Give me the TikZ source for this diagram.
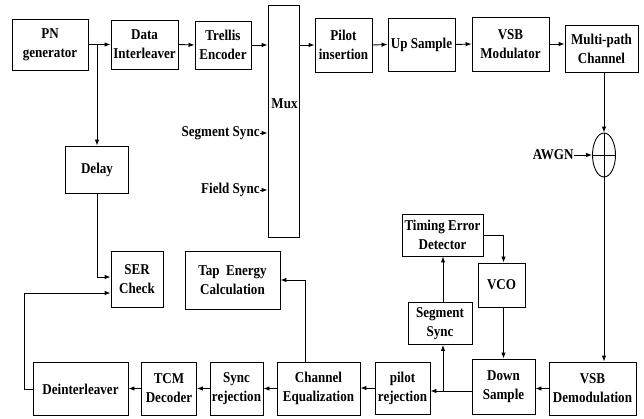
\documentclass[tikz,border=0pt]{standalone}
\usepackage{fontspec}
\setmainfont[FakeStretch=0.87]{Liberation Serif}
\usetikzlibrary{arrows.meta,shapes.geometric}
\begin{document}
\begin{tikzpicture}[x=1pt,y=-1pt, line width=0.9pt,
  blk/.style={draw, rectangle, inner sep=0pt, align=center,
    font=\fontsize{15}{19}\selectfont\bfseries},
  lbl/.style={inner sep=0pt, font=\fontsize{15}{19}\selectfont\bfseries},
  arr/.style={-{Latex[length=6pt,width=4.5pt]}}]
\useasboundingbox (0,0) rectangle (644,419);
% top row
\node[blk, minimum width=76pt, minimum height=51pt] (pn) at (50,44.5) {PN\\generator};
\node[blk, minimum width=67pt, minimum height=49pt] (di) at (144.5,44.5) {Data\\Interleaver};
\node[blk, minimum width=56pt, minimum height=48pt] (tr) at (223,45) {Trellis\\Encoder};
\node[blk, minimum width=31pt, minimum height=232pt] (mux) at (283.5,121) {};
\node[lbl] (muxt) at (284.5,104) {Mux};
\node[blk, minimum width=57pt, minimum height=54pt] (pi) at (343.5,45) {Pilot\\insertion};
\node[blk, minimum width=67pt, minimum height=53pt] (up) at (421.5,44.5) {Up Sample};
\node[blk, minimum width=77pt, minimum height=54pt] (vm) at (510.5,44) {VSB\\Modulator};
\node[blk, minimum width=73pt, minimum height=47pt] (mp) at (601.5,48.5) {Multi-path\\Channel};
% adder
\node[draw, ellipse, minimum width=23pt, minimum height=44pt, inner sep=0pt] (add) at (604,155) {};
\draw (add.north) -- (add.south);
\draw (add.west) -- (add.east);
\node[lbl, anchor=east] (awgn) at (574,155) {AWGN};
% mux inputs
\node[lbl, anchor=east] (segl) at (260,133) {Segment Sync};
\node[lbl, anchor=east] (fldl) at (260,190) {Field Sync};
% left column
\node[blk, minimum width=63pt, minimum height=47pt] (dl) at (97,169.5) {Delay};
\node[blk, minimum width=52pt, minimum height=56pt] (ser) at (137,279) {SER\\Check};
\node[blk, minimum width=95pt, minimum height=58pt] (tap) at (232.5,280) {Tap~~Energy\\Calculation};
% timing loop
\node[blk, minimum width=81pt, minimum height=42pt] (ted) at (442.5,235) {Timing Error\\Detector};
\node[blk, minimum width=47pt, minimum height=44pt] (vco) at (501.5,285) {VCO};
\node[blk, minimum width=64pt, minimum height=42pt] (ss) at (440,323.5) {Segment\\Sync};
% bottom row
\node[blk, minimum width=87pt, minimum height=53pt] (vd) at (592.5,388.5) {VSB\\Demodulation};
\node[blk, minimum width=63pt, minimum height=55pt] (ds) at (503.5,386.5) {Down\\Sample};
\node[blk, minimum width=55pt, minimum height=52pt] (pr) at (402.5,388) {pilot\\rejection};
\node[blk, minimum width=83pt, minimum height=53pt] (ce) at (318.5,388.5) {Channel\\Equalization};
\node[blk, minimum width=53pt, minimum height=53pt] (sr) at (236.5,388.5) {Sync\\rejection};
\node[blk, minimum width=55pt, minimum height=53pt] (tcm) at (169,388.5) {TCM\\Decoder};
\node[blk, minimum width=95pt, minimum height=53pt] (de) at (80.5,389) {Deinterleaver};
% top connectors
\draw[arr] (pn.east) -- (di.west);
\draw[arr] (pn.east -| dl.north) -- (dl.north);
\draw[arr] (di.east) -- (tr.west);
\draw[arr] (tr.east) -- (tr.east -| mux.west);
\draw[arr] (mux.east |- pi.west) -- (pi.west);
\draw[arr] (pi.east) -- (up.west);
\draw[arr] (up.east) -- (vm.west);
\draw[arr] (vm.east) -- (vm.east -| mp.west);
\draw[arr] (mp.south -| add.north) -- (add.north);
\draw[arr] (awgn.east) -- (add.west);
\draw[arr] (add.south) -- (add.south |- vd.north);
\draw[arr] (segl.east) -- (segl.east -| mux.west);
\draw[arr] (fldl.east) -- (fldl.east -| mux.west);
% left connectors
\draw[arr] (dl.south) |- ([yshift=2pt]ser.west);
\draw[arr] (de.west) -- ++(-8,0) |- ([yshift=-14pt]ser.west);
\draw[arr] ([xshift=-13.5pt]ce.north) |- (tap.east);
% bottom connectors
\draw[arr] (vd.west) -- (vd.west -| ds.east);
\coordinate (bp) at (443,391);
\draw (ds.west |- bp) -- (bp);
\draw[arr] (bp) -- (bp -| pr.east);
\draw[arr] (bp) -- (bp |- ss.south);
\draw[arr] (ss.north -| bp) -- (ted.south -| bp);
\draw[arr] (ted.east) -| ([xshift=2pt]vco.north);
\draw[arr] (vco.south -| ds.north) -- (ds.north);
\draw[arr] (pr.west) -- (pr.west -| ce.east);
\draw[arr] (ce.west) -- (ce.west -| sr.east);
\draw[arr] (sr.west) -- (sr.west -| tcm.east);
\draw[arr] (tcm.west) -- (tcm.west -| de.east);
\end{tikzpicture}
\end{document}
